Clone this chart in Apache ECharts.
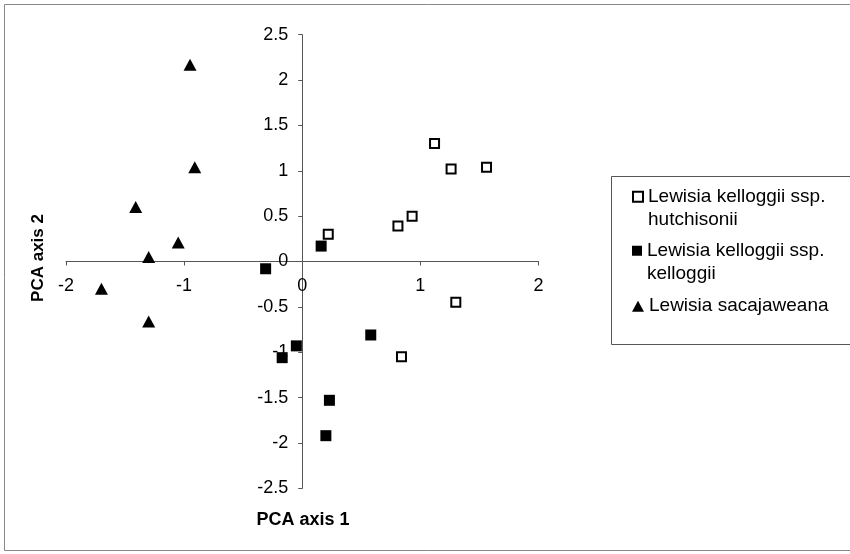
<!DOCTYPE html>
<html>
<head>
<meta charset="utf-8">
<script src="https://cdn.jsdelivr.net/npm/echarts@6/dist/echarts.min.js"></script>
<style>html,body{margin:0;padding:0;background:#fff}#c{width:850px;height:554px}</style>
</head>
<body>
<div id="c"></div>
<script>
var seriesNames = ['Lewisia kelloggii ssp. hutchisonii', 'Lewisia kelloggii ssp. kelloggii', 'Lewisia sacajaweana'];
var hutchisonii = [[1.12, 1.30], [1.26, 1.02], [1.56, 1.04], [0.81, 0.39], [0.93, 0.50], [0.22, 0.30], [1.30, -0.45], [0.84, -1.05]];
var kelloggii = [[0.16, 0.17], [-0.31, -0.08], [-0.05, -0.93], [-0.17, -1.06], [0.58, -0.81], [0.23, -1.53], [0.20, -1.92]];
var sacajaweana = [[-0.95, 2.17], [-0.91, 1.04], [-1.41, 0.60], [-1.05, 0.21], [-1.30, 0.05], [-1.70, -0.30], [-1.30, -0.66]];
var xTitle = 'PCA axis 1';
var yTitle = 'PCA axis 2';

var FONT = '"Liberation Sans", Arial, sans-serif';
var W = 850, H = 554;
var G = { left: 66, right: 311.5, top: 34.7, bottom: 65.7 };
var gridW = W - G.left - G.right, gridH = H - G.top - G.bottom;
var chart = echarts.init(document.getElementById('c'));

function legendFor(i, top) {
  var twoLine = seriesNames[i].indexOf(' ssp. ') >= 0;
  return {
    show: true,
    left: 632,
    top: top,
    padding: 0,
    itemWidth: i === 2 ? 12 : 10,
    itemHeight: i === 2 ? 11 : 10,
    itemGap: 0,
    data: [seriesNames[i]],
    formatter: function (n) { return twoLine ? ' \n' + n.replace(' ssp. ', ' ssp.\n') : n; },
    textStyle: { fontFamily: FONT, fontSize: 19, color: '#000', lineHeight: 23.5 },
    selectedMode: false
  };
}

chart.setOption({
  animation: false,
  backgroundColor: '#fff',
  grid: G,
  xAxis: {
    type: 'value', min: -2, max: 2, interval: 1,
    offset: -gridH / 2,
    axisLine: { onZero: false, lineStyle: { color: '#555', width: 1 } },
    axisTick: { length: 4, lineStyle: { color: '#555' } },
    splitLine: { show: false },
    axisLabel: { margin: 16, fontFamily: FONT, fontSize: 18, color: '#000' }
  },
  yAxis: {
    type: 'value', min: -2.5, max: 2.5, interval: 0.5,
    offset: -gridW / 2,
    axisLine: { onZero: false, lineStyle: { color: '#555', width: 1 } },
    axisTick: { length: 4, lineStyle: { color: '#555' } },
    splitLine: { show: false },
    axisLabel: { margin: 14, fontFamily: FONT, fontSize: 18, color: '#000' }
  },
  legend: [legendFor(0, 161.5), legendFor(1, 215.5), legendFor(2, 294.5)],
  graphic: [
    { type: 'rect', shape: { x: 4.5, y: 4.5, width: 900, height: 546 }, style: { fill: 'none', stroke: '#888', lineWidth: 1 }, z: -1 },
    { type: 'rect', shape: { x: 611.5, y: 176.5, width: 300, height: 168 }, style: { fill: '#fff', stroke: '#555', lineWidth: 1 }, z: -1 },
    { type: 'text', x: 303, y: 520, style: { text: xTitle, font: 'bold 18px ' + FONT, fill: '#000', align: 'center', verticalAlign: 'middle' } },
    { type: 'text', x: 38, y: 258, rotation: Math.PI / 2, style: { text: yTitle, font: 'bold 17px ' + FONT, fill: '#000', align: 'center', verticalAlign: 'middle' } }
  ],
  series: [
    { name: seriesNames[0], type: 'scatter', data: hutchisonii, symbol: 'rect', symbolSize: 9,
      itemStyle: { color: '#fff', borderColor: '#000', borderWidth: 2, opacity: 1 }, z: 3 },
    { name: seriesNames[1], type: 'scatter', data: kelloggii, symbol: 'rect', symbolSize: 11,
      itemStyle: { color: '#000', borderWidth: 0, opacity: 1 }, z: 3 },
    { name: seriesNames[2], type: 'scatter', data: sacajaweana, symbol: 'triangle', symbolSize: [13, 12],
      itemStyle: { color: '#000', borderWidth: 0, opacity: 1 }, z: 3 }
  ]
});
</script>
</body>
</html>
